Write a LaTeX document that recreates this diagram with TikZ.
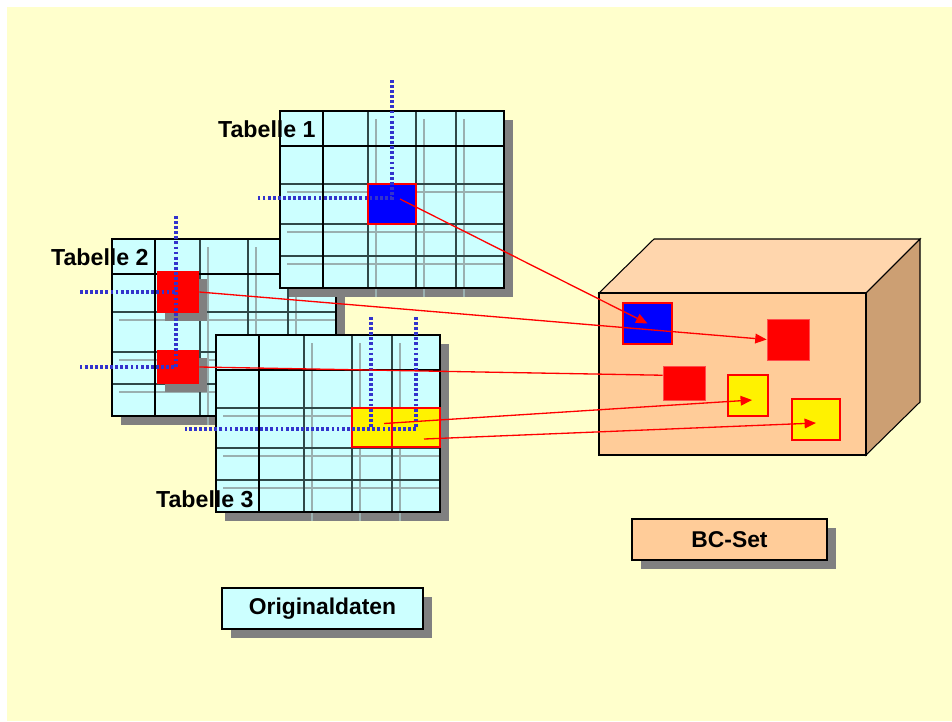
\documentclass[tikz,border=0pt]{standalone}
\usepackage{fontspec}
\setmainfont{Liberation Sans}
\usetikzlibrary{arrows.meta,shadows}

\definecolor{paper}{HTML}{FFFFCC}
\definecolor{tablecyan}{HTML}{CCFFFF}
\definecolor{shadowgray}{HTML}{808080}
\definecolor{gridgray}{HTML}{9AB0B0}
\definecolor{gridthin}{HTML}{304848}
\definecolor{dotblue}{HTML}{3333CC}
\definecolor{bcfront}{HTML}{FFCC99}
\definecolor{bctop}{HTML}{FFD6AD}
\definecolor{bcside}{HTML}{CC9F73}

\tikzset{
  cell/.style={draw=red, line width=1.1pt, inner sep=0pt},
  redcell/.style={fill=red, inner sep=0pt,
    drop shadow={shadow xshift=0.16cm, shadow yshift=-0.16cm, fill=shadowgray, opacity=1}},
  bcred/.style={fill=red, draw=red!70, line width=0.4pt, inner sep=0pt},
  marker/.style={dotblue, line width=1.8pt, dash pattern=on 1.6pt off 1.3pt},
  link/.style={red, line width=0.75pt, -{Triangle[length=6.5pt,width=5.5pt]}},
  title/.style={inner sep=0pt, font=\bfseries\fontsize{13.2}{16}\selectfont},
  caption/.style={draw, line width=1pt, minimum width=4.02cm, minimum height=0.82cm,
    font=\bfseries\fontsize{13}{15}\selectfont,
    drop shadow={shadow xshift=0.18cm, shadow yshift=-0.18cm, fill=shadowgray, opacity=1}},
}

% one table: top left corner at #1,#2 (pixel units)
\newcommand{\datatable}[2]{%
  \begin{scope}[shift={(#1,#2)}]
    \fill[shadowgray] (9,9) rectangle (233,186);
    \fill[tablecyan] (0,0) rectangle (224,177);
    \foreach \gx in {96,144,184} \draw[gridgray, line width=0.8pt] (\gx,8) -- (\gx,186);
    \foreach \gy in {81,121,153} \draw[gridgray, line width=0.8pt] (7,\gy) -- (224,\gy);
    \foreach \gx in {88,136,176} \draw[gridthin, line width=0.8pt] (\gx,0) -- (\gx,177);
    \foreach \gy in {73,113,145} \draw[gridthin, line width=0.8pt] (0,\gy) -- (224,\gy);
    \draw[line width=1.4pt] (43,0) -- (43,177) (0,35) -- (224,35);
    \draw[line width=1.4pt] (0,0) rectangle (224,177);
  \end{scope}}

\begin{document}
\begin{tikzpicture}[x=0.02cm, y=-0.02cm]
\useasboundingbox (0,0) rectangle (952,721);
\fill[white] (0,0) rectangle (952,721);
\fill[paper] (7,7) rectangle (952,721);

% Tabelle 2
\datatable{112}{239}
\node[redcell, minimum width=0.84cm, minimum height=0.84cm] (B) at (178,292) {};
\node[redcell, minimum width=0.84cm, minimum height=0.68cm] (C) at (178,367) {};
\draw[marker] (80,292) -- (176,292) (176,216) -- (176,367) -- (80,367);

% Tabelle 1
\datatable{280}{111}
\node[cell, fill=blue, minimum width=0.96cm, minimum height=0.8cm] (A) at (392,204) {};
\draw[marker] (392,80) -- (392,198) -- (256,198);

% Tabelle 3
\datatable{216}{335}
\node[cell, fill=yellow, minimum width=0.8cm, minimum height=0.78cm] (D) at (372,427.5) {};
\node[cell, fill=yellow, minimum width=0.96cm, minimum height=0.78cm] (E) at (416,427.5) {};
\draw[marker] (371,317) -- (371,429) (416,317) -- (416,429) -- (185,429);

% table titles
\node[title, anchor=base east] (M) at (316,137) {Tabelle 1};
\node[title, anchor=base east] (N) at (149,265) {Tabelle 2};
\node[title, anchor=base east] (O) at (254,507) {Tabelle 3};

% BC-Set box
\draw[fill=bctop, line width=0.6pt] (599,293) -- (654,239) -- (920,239) -- (866,293) -- cycle;
\draw[fill=bcside, line width=0.6pt] (866,293) -- (920,239) -- (920,402) -- (866,455) -- cycle;
\draw[fill=bcfront, line width=0.6pt] (599,293) rectangle (866,455);

\node[cell, fill=blue, minimum width=0.98cm, minimum height=0.82cm] (F) at (647.5,323.5) {};
\node[bcred, minimum width=0.84cm, minimum height=0.82cm] (G) at (788,339.5) {};
\node[bcred, minimum width=0.84cm, minimum height=0.68cm] (H) at (684,383) {};
\node[cell, fill=yellow, minimum width=0.8cm, minimum height=0.82cm] (I) at (748,395.5) {};
\node[cell, fill=yellow, minimum width=0.96cm, minimum height=0.82cm] (J) at (816,419.5) {};

% arrows
\path [link]
    ([shift={(8,-5)}]A.center) edge (F.center)
    (B.east) edge (G.west)
    ([shift={(12,-4)}]D.center) edge ([shift={(4,4.5)}]I.center)
    ([shift={(8,11.5)}]E.center) edge ([shift={(0,3.5)}]J.center)
    ;
\draw [red, line width=0.75pt] (C.east) -- (H.160);

% captions
\node[caption, fill=tablecyan] (K) at (322.5,608.5) {Originaldaten};
\node[caption, fill=bcfront, minimum width=3.9cm] (L) at (729.5,539.5) {BC-Set};
\end{tikzpicture}
\end{document}
